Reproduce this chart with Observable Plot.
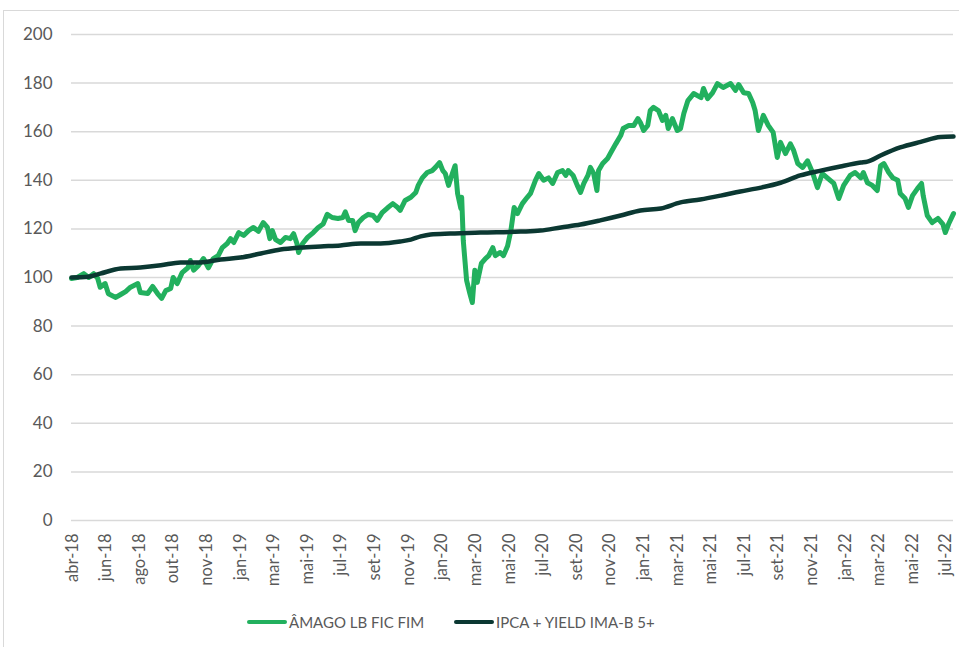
<!DOCTYPE html>
<html>
<head>
<meta charset="utf-8">
<script src="https://cdn.jsdelivr.net/npm/d3@7"></script>
<script src="https://cdn.jsdelivr.net/npm/@observablehq/plot@0.6"></script>
<style>
  html, body { margin: 0; padding: 0; background: #fff; }
  #wrap { position: relative; width: 959px; height: 647px; overflow: hidden; font-family: Lato, "Open Sans", sans-serif; }
  #frame { position: absolute; left: 3px; top: 10px; width: 960px; height: 640px; border-top: 1.5px solid #d9d9d9; border-left: 1.5px solid #d9d9d9; }
  #chart { position: absolute; left: 0; top: 0; }
  #legend { position: absolute; top: 611px; left: 0; width: 959px; height: 22px; color: #595959; font-size: 15px; }
  .item { position: absolute; top: 0; display: flex; align-items: center; height: 22px; }
  .sw { width: 40px; height: 4px; border-radius: 2px; margin-right: 2px; }
</style>
</head>
<body>
<div id="wrap">
  <div id="frame"></div>
  <div id="chart"></div>
  <div id="legend">
    <div class="item" style="left:247px"><span class="sw" style="background:#22b05e"></span><span>ÂMAGO LB FIC FIM</span></div>
    <div class="item" style="left:454px"><span class="sw" style="background:#0b3832"></span><span>IPCA + YIELD IMA-B 5+</span></div>
  </div>
</div>
<script>
// Trading-day index (approx.) and values
const amagoDays = [0,7,15,21,27,32,35,41,45,54,60,66,72,81,84,93,99,105,110,115,121,124,129,135,142,145,149,155,161,167,173,179,184,190,194,198,204,210,216,222,228,234,239,242,245,249,255,261,267,271,275,277,282,288,295,301,307,312,318,325,331,334,338,343,346,350,356,362,368,373,379,386,392,398,401,407,414,420,423,428,434,440,444,449,453,456,460,465,468,471,475,476,478,482,486,489,492,495,500,505,509,514,517,523,527,532,536,540,544,550,556,560,566,570,576,582,587,593,599,603,606,612,617,621,625,630,633,637,641,643,648,654,658,664,670,673,680,686,691,694,698,703,706,710,716,721,725,728,733,739,743,747,752,759,768,771,776,782,788,795,804,810,814,820,826,831,834,838,844,850,856,861,865,871,877,881,886,892,898,904,910,916,922,930,936,942,950,956,963,966,971,977,983,987,991,997,1002,1008,1011,1017,1021,1026,1032,1037,1039,1044,1050,1057,1063,1066,1070,1076];
const amagoValues = [99.6,100,101.6,100,101.6,99.6,96,97.5,93.3,91.8,93,94.2,96,97.5,93.8,93.4,96.3,93.4,91.4,94.6,95.5,100,97.5,102,104,107,103,105,107.8,104,107.8,109,112.3,114,116,114.4,118.5,117.3,119.3,120.6,119,122.6,120.6,116,119.3,115.6,114.4,116.5,116,118,114,110.3,114,116.5,118.5,120.6,122,126,124.7,124.3,124.7,127,123.5,123.5,119.3,122.6,124.7,126,125.5,123.5,126.7,128.8,130.4,128.8,127.6,131.7,133,135,137.9,141,143.2,144,145.3,147.3,144,142.8,137.9,143.2,146,134.6,128.4,133,115,98.8,93.4,89.7,103,98,105.8,107.8,109,112.3,109,110.3,109,113,119.3,128.8,126.3,130.4,133,134.6,140,142.8,140,141,138.7,143.2,144,142,144,142,137.9,135,138.7,142,145.3,142.8,135.8,144,146.9,149,151.4,155,158.4,161.3,162.6,162.6,165.4,163.8,160.5,162.6,168.7,170,168.7,164.6,166.7,161.3,165.4,160.5,161.3,167.5,172.8,175.7,174,177.8,173.6,176,179.8,178.2,179.8,177,179.4,176,175.7,172,168.7,160.5,166.7,162.6,159.7,149.4,155.6,151,155,152.3,146.9,145.3,148,143.2,137,142.8,141,138.7,132.5,137.9,142,143.2,141,143.2,139,137.9,135.8,146,146.9,143.2,141,140,134.6,132.5,128.8,133.7,136.6,138.7,133.7,125.5,122.6,124.3,122,118.5,122,126.3];

const ipcaDays = [0,20,35,60,84,109,133,157,182,206,231,255,279,304,328,353,377,401,414,426,438,462,499,548,572,597,621,645,670,694,719,743,767,792,816,841,865,889,914,938,963,971,987,1011,1036,1060,1076];
const ipcaValues = [100,100.3,101.6,103.7,104.1,105,106.2,106.2,107.4,108.2,109.9,111.5,112.3,112.8,113.2,114,114,114.8,115.6,116.9,117.7,118.1,118.5,118.9,119.3,120.6,121.8,123.5,125.5,127.6,128.4,130.9,132.1,133.7,135.4,137,139,142,144,145.7,147.3,147.7,150.2,153.5,155.8,157.8,158];

const tickLabels = ["abr-18","jun-18","ago-18","out-18","nov-18","jan-19","mar-19","mai-19","jul-19","set-19","nov-19","jan-20","mar-20","mai-20","jul-20","set-20","nov-20","jan-21","mar-21","mai-21","jul-21","set-21","nov-21","jan-22","mar-22","mai-22","jul-22"];
const tickDays = tickLabels.map((_, i) => 1 + 41 * i);
const yTicks = [0,20,40,60,80,100,120,140,160,180,200];

const amago = amagoDays.map((d, i) => ({day: d, value: amagoValues[i]}));
const ipca = ipcaDays.map((d, i) => ({day: d, value: ipcaValues[i]}));
const labelOf = new Map(tickDays.map((d, i) => [d, tickLabels[i]]));

const chart = Plot.plot({
  width: 959,
  height: 600,
  marginTop: 34,
  marginBottom: 80,
  marginLeft: 71,
  marginRight: 6,
  style: {fontFamily: "Lato, 'Open Sans', sans-serif", fontSize: "16px", color: "#595959", background: "transparent"},
  x: {domain: [0, 1076]},
  y: {domain: [0, 200]},
  marks: [
    Plot.gridY(yTicks, {stroke: "#d9d9d9", strokeOpacity: 1, strokeWidth: 1.5}),
    Plot.axisY(yTicks, {tickSize: 0, tickPadding: 19, label: null, fontSize: 17}),
    Plot.axisX(tickDays, {tickSize: 0, tickPadding: 13, tickRotate: -90, label: null, fontSize: 16.5, tickFormat: d => labelOf.get(d)}),
    Plot.line(amago, {x: "day", y: "value", stroke: "#22b05e", strokeWidth: 5, strokeLinejoin: "round", strokeLinecap: "round"}),
    Plot.line(ipca, {x: "day", y: "value", stroke: "#0b3832", strokeWidth: 4.5, strokeLinejoin: "round", strokeLinecap: "round", curve: "monotone-x"})
  ]
});
document.getElementById("chart").appendChild(chart);
</script>
</body>
</html>
